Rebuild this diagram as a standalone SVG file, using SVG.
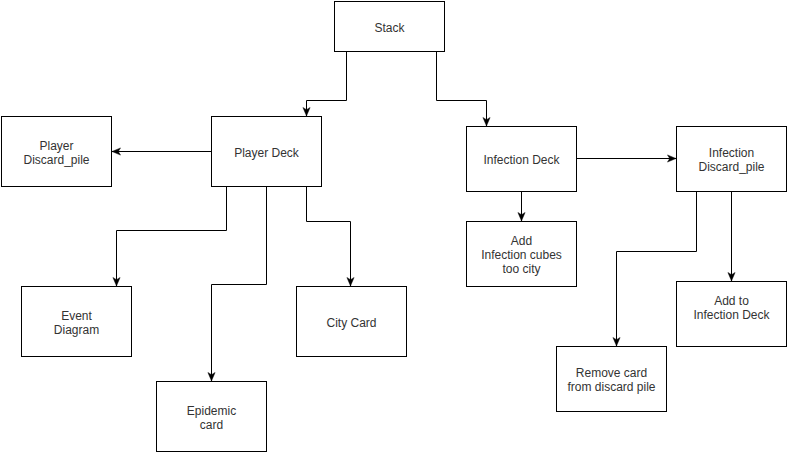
<svg xmlns="http://www.w3.org/2000/svg" width="788" height="454" viewBox="0 0 788 454">
<defs>
<style>
.box{fill:#fff;stroke:#000;stroke-width:1}
.lbl{font-family:"Liberation Sans",Arial,Helvetica,sans-serif;font-size:12px;fill:#333;text-anchor:middle}
.edge{fill:none;stroke:#000;stroke-width:1}
</style>
<marker id="arr" markerUnits="userSpaceOnUse" viewBox="0 0 10 10" refX="10" refY="5" markerWidth="9" markerHeight="9" orient="auto">
<path d="M0.5,1 L10,5 L0.5,9 L3,5 Z" fill="#000" stroke="#000" stroke-width="0.5"/>
</marker>
</defs>
<rect width="788" height="454" fill="#fff"/>
<g id="edges">
<path class="edge" marker-end="url(#arr)" d="M346.5,51.5 V100.5 H306.5 V116"/>
<path class="edge" marker-end="url(#arr)" d="M436.5,51.5 V100.5 H486.5 V126"/>
<path class="edge" marker-end="url(#arr)" d="M211.5,151.5 H112"/>
<path class="edge" marker-end="url(#arr)" d="M226.5,186.5 V230.5 H116.5 V286"/>
<path class="edge" marker-end="url(#arr)" d="M266.5,186.5 V284.5 H211.5 V381"/>
<path class="edge" marker-end="url(#arr)" d="M306.5,186.5 V221.5 H350.5 V286"/>
<path class="edge" marker-end="url(#arr)" d="M576.5,158.5 H676"/>
<path class="edge" marker-end="url(#arr)" d="M521.5,191.5 V221"/>
<path class="edge" marker-end="url(#arr)" d="M696.5,191.5 V251.5 H616.5 V346"/>
<path class="edge" marker-end="url(#arr)" d="M731.5,191.5 V281"/>
</g>
<g id="stack"><rect class="box" x="334.5" y="1.5" width="110" height="50"/><text class="lbl" x="389.5" y="32">Stack</text></g>
<g id="player-deck"><rect class="box" x="211.5" y="116.5" width="110" height="70"/><text class="lbl" x="266.5" y="157">Player Deck</text></g>
<g id="player-discard"><rect class="box" x="1.5" y="116.5" width="110" height="70"/><text class="lbl" x="56.5" y="150">Player</text><text class="lbl" x="56.5" y="164">Discard_pile</text></g>
<g id="infection-deck"><rect class="box" x="466.5" y="126.5" width="110" height="65"/><text class="lbl" x="521.5" y="164">Infection Deck</text></g>
<g id="infection-discard"><rect class="box" x="676.5" y="126.5" width="110" height="65"/><text class="lbl" x="731.5" y="157">Infection</text><text class="lbl" x="731.5" y="171">Discard_pile</text></g>
<g id="add-cubes"><rect class="box" x="466.5" y="221.5" width="110" height="65"/><text class="lbl" x="521.5" y="245">Add</text><text class="lbl" x="521.5" y="259">Infection cubes</text><text class="lbl" x="521.5" y="273">too city</text></g>
<g id="event-diagram"><rect class="box" x="21.5" y="286.5" width="110" height="70"/><text class="lbl" x="76.5" y="320">Event</text><text class="lbl" x="76.5" y="334">Diagram</text></g>
<g id="city-card"><rect class="box" x="296.5" y="286.5" width="110" height="70"/><text class="lbl" x="351.5" y="327">City Card</text></g>
<g id="epidemic-card"><rect class="box" x="156.5" y="381.5" width="110" height="70"/><text class="lbl" x="211.5" y="415">Epidemic</text><text class="lbl" x="211.5" y="429">card</text></g>
<g id="add-to-infection-deck"><rect class="box" x="676.5" y="281.5" width="110" height="65"/><text class="lbl" x="731.5" y="305">Add to</text><text class="lbl" x="731.5" y="319">Infection Deck</text></g>
<g id="remove-card"><rect class="box" x="556.5" y="346.5" width="110" height="65"/><text class="lbl" x="611.5" y="377">Remove card</text><text class="lbl" x="611.5" y="391">from discard pile</text></g>
</svg>
